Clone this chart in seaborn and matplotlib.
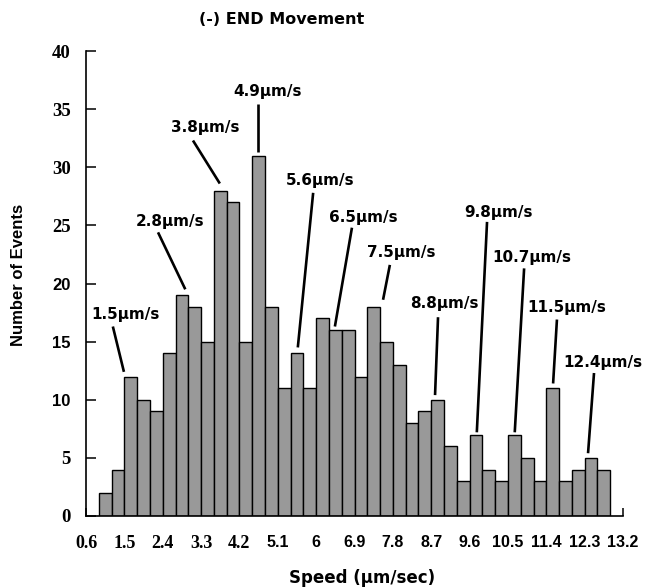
import numpy as np
import pandas as pd
import matplotlib
matplotlib.use("Agg")
import matplotlib.pyplot as plt
import seaborn as sns

# ---- data ----
bin_left = 0.9
bin_width = 0.3
counts = [2, 4, 12, 10, 9, 14, 19, 18, 15, 28, 27, 15, 31, 18, 11, 14, 11, 17, 16, 16,
          12, 18, 15, 13, 8, 9, 10, 6, 3, 7, 4, 3, 7, 5, 3, 11, 3, 4, 5, 4]
speed_centers = [round(bin_left + bin_width * (i + 0.5), 2) for i in range(len(counts))]
xtick_labels = ["0.6", "1.5", "2.4", "3.3", "4.2", "5.1", "6", "6.9", "7.8", "8.7",
                "9.6", "10.5", "11.4", "12.3", "13.2"]
ytick_labels = ["0", "5", "10", "15", "20", "25", "30", "35", "40"]
peak_labels = ["1.5µm/s", "2.8µm/s", "3.8µm/s", "4.9µm/s", "5.6µm/s", "6.5µm/s",
               "7.5µm/s", "8.8µm/s", "9.8µm/s", "10.7µm/s", "11.5µm/s", "12.4µm/s"]

# annotation layout (text centre, line start, line end) in data coords
text_pos = [(1.52, 17.3), (2.57, 25.3), (3.39, 33.4), (4.87, 36.5), (6.09, 28.9),
            (7.10, 25.7), (7.99, 22.7), (9.00, 18.3), (10.29, 26.1), (11.06, 22.2),
            (11.89, 17.9), (12.73, 13.2)]
line_from = [(1.23, 16.3), (2.29, 24.4), (3.11, 32.3), (4.64, 35.4), (5.93, 27.8),
             (6.84, 24.8), (7.73, 21.6), (8.86, 17.1), (10.01, 25.3), (10.88, 21.3),
             (11.65, 16.9), (12.52, 12.3)]
line_to = [(1.49, 12.4), (2.93, 19.5), (3.74, 28.6), (4.64, 31.3), (5.57, 14.5),
           (6.44, 16.3), (7.57, 18.6), (8.79, 10.4), (9.77, 7.2), (10.66, 7.2),
           (11.56, 11.4), (12.38, 5.4)]

df = pd.DataFrame({"speed": speed_centers, "count": counts})

sns.set_style("white")
plt.rcParams.update({
    "text.color": "black", "axes.labelcolor": "black",
    "xtick.color": "black", "ytick.color": "black",
    "xtick.bottom": True, "ytick.left": True,
})
fig = plt.figure(figsize=(6.47, 5.87), dpi=100)
ax = fig.add_axes([86 / 647, 1 - 516 / 587, (623 - 86) / 647, (516 - 51) / 587])

sns.histplot(data=df, x="speed", weights="count", binwidth=bin_width,
             binrange=(bin_left, bin_left + bin_width * len(counts)), ax=ax,
             color="#999999", edgecolor="black", linewidth=1.0, alpha=1.0)

ax.set_xlim(0.6, 13.2)
ax.set_ylim(0, 40)
xt = [float(v) for v in xtick_labels]
yt = [float(v) for v in ytick_labels]
ax.set_xticks(xt)
ax.set_xticklabels(xtick_labels)
ax.set_yticks(yt)
ax.set_yticklabels(ytick_labels)

for s in ["top", "right"]:
    ax.spines[s].set_visible(False)
for s in ["left", "bottom"]:
    ax.spines[s].set_color("black")
    ax.spines[s].set_linewidth(1.2)

ax.tick_params(axis="y", left=True, direction="in", length=7, width=1.1, pad=11, colors="black")
ax.tick_params(axis="x", bottom=True, direction="in", length=6, width=1.1, pad=14, colors="black")

serif_y = {"0", "5", "25", "30", "35", "40"}
for lab in ax.get_yticklabels():
    if lab.get_text() in serif_y:
        lab.set_fontfamily("Liberation Serif")
        lab.set_fontsize(13.5)
    else:
        lab.set_fontfamily("Liberation Sans")
        lab.set_fontsize(12)
    lab.set_fontweight("bold")
    lab.set_color("black")

serif_x = {"0.6", "1.5", "2.4", "3.3", "4.2"}
for lab in ax.get_xticklabels():
    if lab.get_text() in serif_x:
        lab.set_fontfamily("Liberation Serif")
        lab.set_fontsize(13)
    else:
        lab.set_fontfamily("Liberation Sans")
        lab.set_fontsize(11.5)
    lab.set_fontweight("bold")
    lab.set_color("black")

ax.set_xlabel("")
ax.set_ylabel("")
fig.text(362 / 647, 1 - 578 / 587, "Speed (µm/sec)", ha="center", va="center",
         fontsize=12, fontweight="bold", family="DejaVu Sans", color="black")
fig.text(19 / 647, 1 - 275 / 587, "Number of Events", ha="center", va="center",
         rotation=90, fontsize=12, fontweight="bold", family="Liberation Sans", color="black")
fig.text(282 / 647, 1 - 20 / 587, "(-) END Movement", ha="center", va="center",
         fontsize=11.5, fontweight="bold", family="DejaVu Sans", color="black")

for lab, tp, lf, lt in zip(peak_labels, text_pos, line_from, line_to):
    ax.plot([lf[0], lt[0]], [lf[1], lt[1]], color="black", lw=1.9,
            solid_capstyle="butt", clip_on=False)
    ax.text(tp[0], tp[1], lab, ha="center", va="center", fontsize=11,
            fontweight="bold", family="DejaVu Sans", color="black")

fig.savefig("out.png", dpi=100, facecolor="white")
